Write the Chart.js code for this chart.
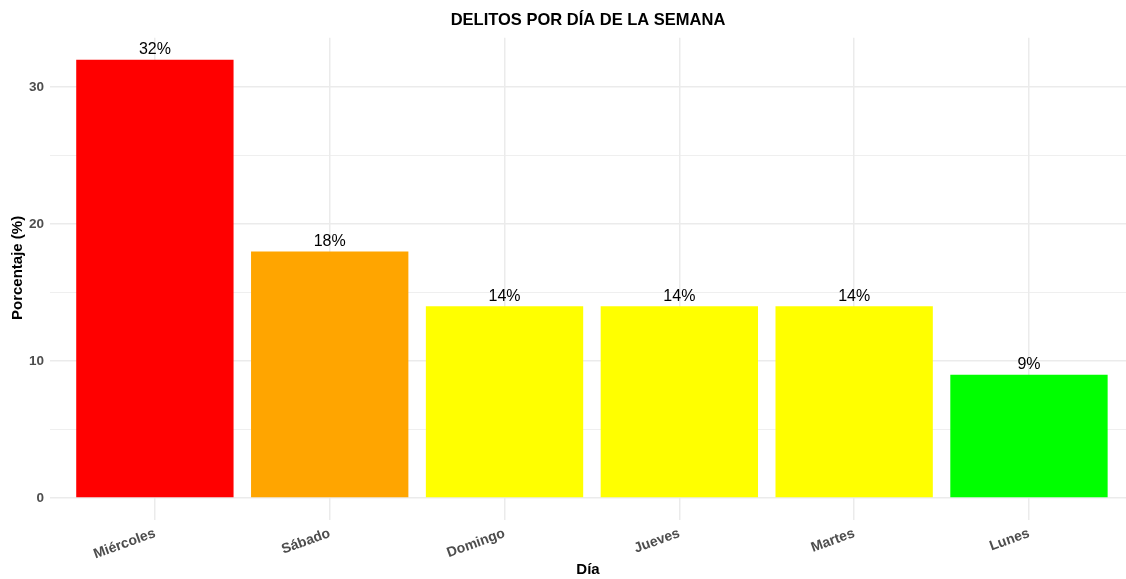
<!DOCTYPE html>
<html>
<head>
<meta charset="utf-8">
<script src="https://cdn.jsdelivr.net/npm/chart.js@4"></script>
<style>
  html, body { margin: 0; padding: 0; background: #fff; }
  #contenedor { width: 1126px; height: 579px; }
</style>
</head>
<body>
<div id="contenedor"><canvas id="myChart"></canvas></div>
<script>
const DIAS = ['Miércoles', 'Sábado', 'Domingo', 'Jueves', 'Martes', 'Lunes'];
const PORCENTAJES = [32, 18, 14, 14, 14, 9];
const ETIQUETAS = ['32%', '18%', '14%', '14%', '14%', '9%'];
const COLORES = ['#FF0000', '#FFA500', '#FFFF00', '#FFFF00', '#FFFF00', '#00FF00'];

const FUENTE = "'Liberation Sans', Arial, sans-serif";
const GRIS_GRID = '#EBEBEB';

// etiquetas de porcentaje encima de cada barra
const etiquetasBarras = {
    id: 'etiquetasBarras',
    afterDatasetsDraw(chart) {
        const ctx = chart.ctx;
        const meta = chart.getDatasetMeta(0);
        ctx.save();
        ctx.font = '16px ' + FUENTE;
        ctx.fillStyle = '#000000';
        ctx.textAlign = 'center';
        ctx.textBaseline = 'bottom';
        meta.data.forEach(function (barra, i) {
            ctx.fillText(ETIQUETAS[i], barra.x, barra.y - 2);
        });
        ctx.restore();
    }
};

var ctx = document.getElementById('myChart').getContext('2d');

var myChart = new Chart(ctx, {
    type: 'bar',
    data: {
        datasets: [{
            data: PORCENTAJES.map(function (v, i) { return { x: i, y: v }; }),
            backgroundColor: COLORES,
            borderWidth: 0,
            barPercentage: 0.9,
            categoryPercentage: 1.0
        }]
    },
    options: {
        responsive: true,
        maintainAspectRatio: false,
        animation: false,
        layout: { padding: 0 },
        plugins: {
            legend: { display: false },
            tooltip: { enabled: false },
            title: {
                display: true,
                text: 'DELITOS POR DÍA DE LA SEMANA',
                fullSize: false,
                color: '#000000',
                font: { family: FUENTE, size: 16.5, weight: 'bold' },
                padding: { top: 11, bottom: 7 }
            }
        },
        scales: {
            x: {
                type: 'linear',
                min: -0.6,
                max: 5.555,
                offset: false,
                afterFit: function (scale) { scale.height = 81; },
                border: { display: false },
                grid: {
                    offset: false,
                    color: GRIS_GRID,
                    lineWidth: 1.5,
                    tickColor: GRIS_GRID,
                    tickLength: 22
                },
                ticks: {
                    stepSize: 1,
                    includeBounds: false,
                    autoSkip: false,
                    maxRotation: 20,
                    minRotation: 20,
                    padding: 5,
                    color: '#4D4D4D',
                    font: { family: FUENTE, size: 14, weight: 'bold' },
                    callback: function (v) { return DIAS[v] !== undefined ? DIAS[v] : ''; }
                },
                title: {
                    display: true,
                    text: 'Día',
                    color: '#000000',
                    font: { family: FUENTE, size: 15, weight: 'bold' },
                    padding: { top: 0, bottom: 0 }
                }
            },
            y: {
                min: 0,
                max: 33.6,
                afterFit: function (scale) { scale.width = 50; },
                border: { display: false },
                grid: {
                    drawTicks: false,
                    color: GRIS_GRID,
                    lineWidth: function (c) { return c.tick && c.tick.value % 10 === 0 ? 1.5 : 0.8; }
                },
                ticks: {
                    stepSize: 5,
                    includeBounds: false,
                    padding: 6,
                    color: '#4D4D4D',
                    font: { family: FUENTE, size: 13.5, weight: 'bold' },
                    callback: function (v) { return v % 10 === 0 ? v : ''; }
                },
                title: {
                    display: true,
                    text: 'Porcentaje (%)',
                    color: '#000000',
                    font: { family: FUENTE, size: 15, weight: 'bold' },
                    padding: { top: 9, bottom: 0 }
                }
            }
        }
    },
    plugins: [etiquetasBarras]
});
</script>
</body>
</html>
